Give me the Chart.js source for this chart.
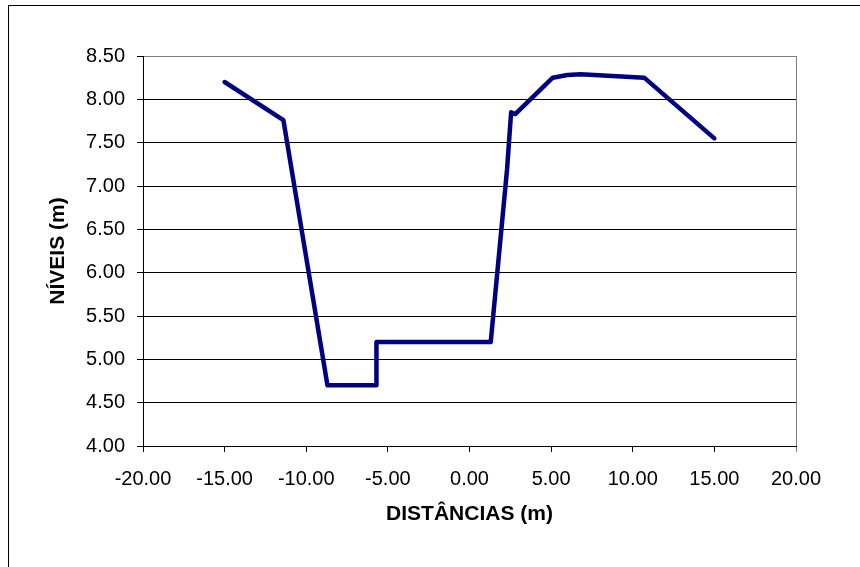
<!DOCTYPE html>
<html>
<head>
<meta charset="utf-8">
<script src="https://cdn.jsdelivr.net/npm/chart.js@4.4.0/dist/chart.umd.min.js"></script>
<style>
    html, body { margin: 0; padding: 0; background: #fff; overflow: hidden; }
    #wrap { position: relative; width: 860px; height: 567px; }
    #frame {
        position: absolute; left: 8px; top: 5px;
        width: 1000px; height: 1000px;
        border-left: 1px solid #000; border-top: 1px solid #000;
    }
    canvas { position: absolute; left: 0; top: 0; }
</style>
</head>
<body>
<div id="wrap">
    <canvas id="perfil" width="860" height="567"></canvas>
    <div id="frame"></div>
</div>
<script>
// Cross-section profile data
const distancias = [-15.0, -11.4, -8.7, -5.7, -5.7, 1.3, 2.3, 2.55, 2.8, 5.1, 6.0, 6.8, 10.7, 15.0];
const niveis = [8.20, 7.76, 4.70, 4.70, 5.20, 5.20, 7.19, 7.85, 7.83, 8.25, 8.28, 8.29, 8.25, 7.55];

const xTicks = [-20, -15, -10, -5, 0, 5, 10, 15, 20];
const yTicks = [4.0, 4.5, 5.0, 5.5, 6.0, 6.5, 7.0, 7.5, 8.0, 8.5];

const points = distancias.map((d, i) => ({ x: d, y: niveis[i] }));
const font = { family: '"Liberation Sans", Arial, sans-serif', size: 20 };
const titleFont = { family: '"Liberation Sans", Arial, sans-serif', size: 21, weight: 'bold' };

new Chart(document.getElementById('perfil'), {
    type: 'scatter',
    data: {
        datasets: [{
            data: points,
            showLine: true,
            borderColor: '#000080',
            borderWidth: 4.5,
            borderJoinStyle: 'round',
            borderCapStyle: 'round',
            pointRadius: 0,
            fill: false
        }]
    },
    options: {
        responsive: false,
        animation: false,
        events: [],
        layout: { padding: { left: 0, top: 56, right: 64, bottom: 31 } },
        plugins: { legend: { display: false }, tooltip: { enabled: false } },
        scales: {
            x: {
                type: 'linear',
                min: -20, max: 20,
                afterBuildTicks: s => { s.ticks = xTicks.map(v => ({ value: v })); },
                afterFit: s => { s.height = 90; },
                ticks: {
                    color: '#000', font: font, padding: 15,
                    maxRotation: 0, autoSkip: false,
                    callback: v => v.toFixed(2)
                },
                grid: {
                    drawOnChartArea: true,
                    tickLength: 6,
                    color: c => (c.tick && c.tick.value === 20) ? '#808080' : 'rgba(0,0,0,0)',
                    tickColor: c => (c.tick && c.tick.value === 20) ? '#808080' : '#000'
                },
                border: { display: true, color: '#000', width: 1 },
                title: {
                    display: true, text: 'DISTÂNCIAS (m)', color: '#000',
                    font: titleFont, padding: { top: 0, bottom: 9 }
                }
            },
            y: {
                type: 'linear',
                min: 4, max: 8.5,
                afterBuildTicks: s => { s.ticks = yTicks.map(v => ({ value: v })); },
                afterFit: s => { s.width = 143; },
                ticks: {
                    color: '#000', font: font, padding: 12,
                    autoSkip: false,
                    callback: v => v.toFixed(2)
                },
                grid: {
                    tickLength: 6,
                    color: c => (c.tick && c.tick.value === 8.5) ? '#808080' : '#000',
                    tickColor: '#000'
                },
                border: { display: true, color: '#000', width: 1 },
                title: {
                    display: true, text: 'NÍVEIS (m)', color: '#000',
                    font: titleFont, padding: { top: 46, bottom: 0 }
                }
            }
        }
    }
});
</script>
</body>
</html>
